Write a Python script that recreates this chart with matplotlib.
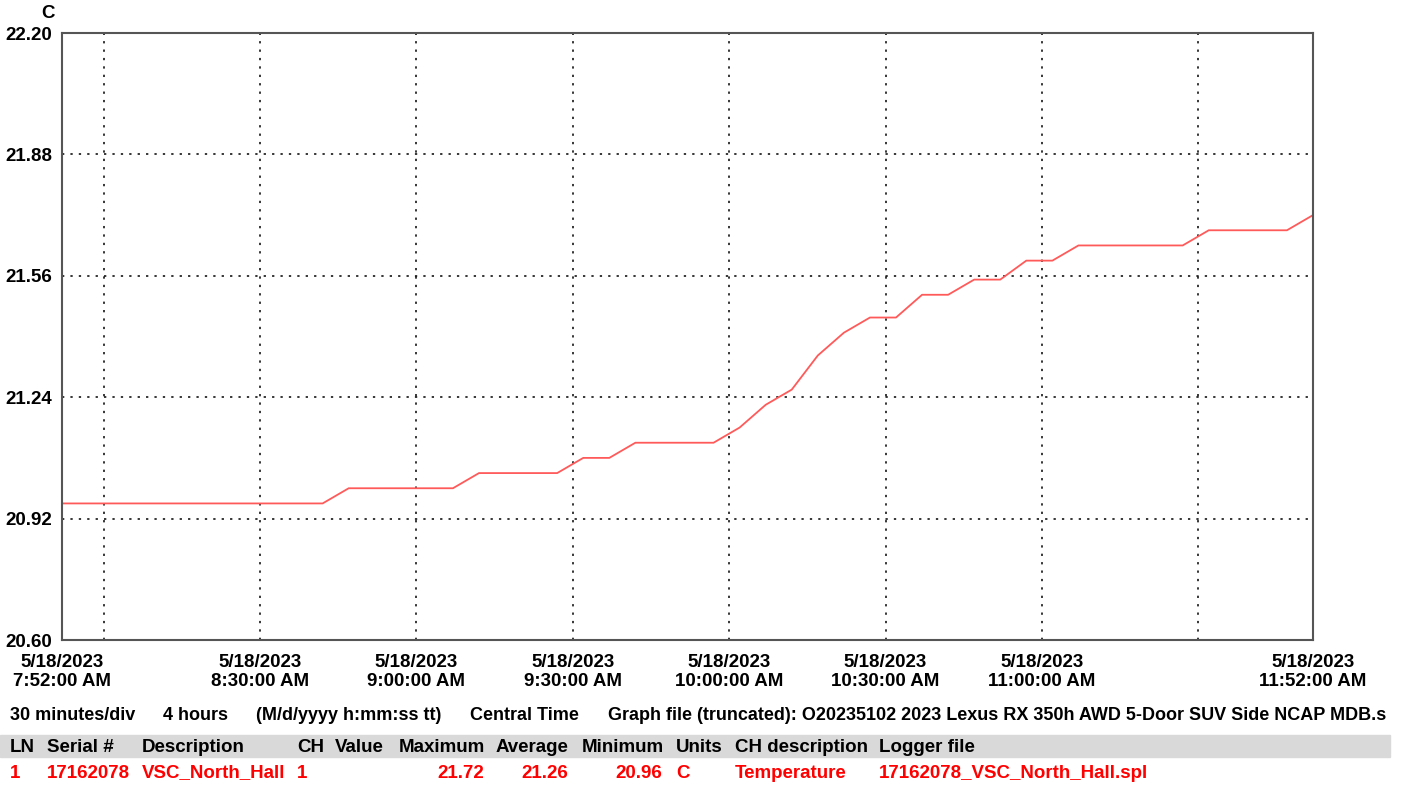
"""
Temperature logger graph: VSC_North_Hall, 5/18/2023
"""

import pandas as pd
import matplotlib.pyplot as plt
from matplotlib.patches import Rectangle

plt.rcParams["font.family"] = ["Liberation Sans", "DejaVu Sans"]
plt.rcParams["font.weight"] = "bold"
plt.rcParams["font.size"] = 13.5

# samples every 5 minutes, 7:52 to 11:52
times = pd.date_range("2023-05-18 07:52", "2023-05-18 11:52", freq="5min")
temps = [20.96, 20.96, 20.96, 20.96, 20.96, 20.96, 20.96, 20.96, 20.96, 20.96, 20.96,
         21.00, 21.00, 21.00, 21.00, 21.00,
         21.04, 21.04, 21.04, 21.04,
         21.08, 21.08,
         21.12, 21.12, 21.12, 21.12,
         21.16, 21.22, 21.26, 21.35, 21.41,
         21.45, 21.45, 21.51, 21.51, 21.55, 21.55, 21.60, 21.60,
         21.64, 21.64, 21.64, 21.64, 21.64,
         21.68, 21.68, 21.68, 21.68,
         21.72]

y_ticks = [20.60, 20.92, 21.24, 21.56, 21.88, 22.20]
label_times = ["07:52", "08:30", "09:00", "09:30", "10:00", "10:30", "11:00", "11:52"]
grid_times = ["08:00", "08:30", "09:00", "09:30", "10:00", "10:30", "11:00", "11:30"]

# the graph file name is truncated in the source, as shown
footer = [("30 minutes/div", 10), ("4 hours", 163), ("(M/d/yyyy h:mm:ss tt)", 256),
          ("Central Time", 470),
          ("Graph file (truncated): O20235102 2023 Lexus RX 350h AWD 5-Door SUV Side NCAP MDB.s", 608)]
headers = [("LN", 10), ("Serial #", 47), ("Description", 142), ("CH", 297), ("Value", 335),
           ("Maximum", 399), ("Average", 496), ("Minimum", 582), ("Units", 676),
           ("CH description", 735), ("Logger file", 879)]
row_left = [("1", 10), ("17162078", 47), ("VSC_North_Hall", 142), ("1", 297), ("C", 676),
            ("Temperature", 735), ("17162078_VSC_North_Hall.spl", 879)]
row_right = [("21.72", 484), ("21.26", 568), ("20.96", 662)]

W, H = 1410, 785
fig = plt.figure(figsize=(W / 100, H / 100), dpi=100)
ax = fig.add_axes([62 / W, 1 - 640 / H, (1313 - 62) / W, (640 - 33) / H])

ax.plot(times, temps, color="#ff5a5a", lw=1.3)

day = "2023-05-18 "
ax.set_xlim(pd.Timestamp(day + "07:52"), pd.Timestamp(day + "11:52"))
ax.set_ylim(20.60, 22.20)
ax.set_yticks(y_ticks)
ax.set_yticklabels([f"{v:.2f}" for v in y_ticks])

lt = [pd.Timestamp(day + t) for t in label_times]
ax.set_xticks(lt)
ax.set_xticklabels([f"5/18/2023\n{t.strftime('%-I:%M:%S %p')}" for t in lt])
ax.xaxis.remove_overlapping_locs = False
ax.set_xticks([pd.Timestamp(day + t) for t in grid_times], minor=True)

ax.tick_params(which="both", length=0)
ax.tick_params(axis="x", pad=10)
ax.tick_params(axis="y", pad=7)
ax.grid(False)
ax.grid(axis="x", which="minor", color="black", linestyle=(0, (1.5, 4)), lw=1.1)
ax.grid(axis="y", which="major", color="black", linestyle=(0, (1.5, 4)), lw=1.1)
for s in ax.spines.values():
    s.set_color("#555555")
    s.set_linewidth(1.5)

fig.text(48 / W, 1 - 13 / H, "C", ha="center", va="center")

for txt, x in footer:
    fig.text(x / W, 1 - 715 / H, txt, va="center", fontsize=13)

fig.patches.append(Rectangle((0, 1 - 757 / H), 1390 / W, 22 / H,
                             transform=fig.transFigure, color="#d9d9d9", zorder=0))
for txt, x in headers:
    fig.text(x / W, 1 - 747 / H, txt, va="center")
for txt, x in row_left:
    fig.text(x / W, 1 - 773 / H, txt, va="center", color="#ff0000")
for txt, x in row_right:
    fig.text(x / W, 1 - 773 / H, txt, va="center", ha="right", color="#ff0000")

plt.savefig("out.png", dpi=100)
